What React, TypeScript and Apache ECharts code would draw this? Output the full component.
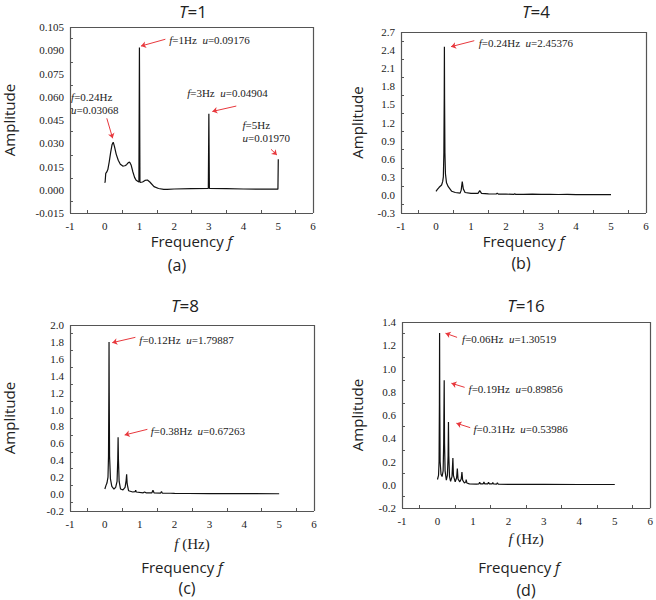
import React, { useEffect, useRef } from "react";
import * as echarts from "echarts";

// ---- data: [frequency (Hz), amplitude] ----
const spectrumT1: [number, number][] = [
  [0.0, 0.0045], [0.012, 0.0052], [0.03, 0.0106], [0.06, 0.0115], [0.09, 0.013], [0.13, 0.018],
  [0.17, 0.024], [0.21, 0.029], [0.245, 0.0307], [0.28, 0.028], [0.33, 0.023], [0.39, 0.019],
  [0.45, 0.0165], [0.52, 0.0153], [0.58, 0.0155], [0.63, 0.0162], [0.68, 0.0175], [0.72, 0.0178],
  [0.76, 0.016], [0.81, 0.0116], [0.86, 0.008], [0.9, 0.0063], [0.95, 0.0055], [0.985, 0.005],
  [1.0, 0.0918], [1.015, 0.0048], [1.09, 0.005], [1.16, 0.006], [1.23, 0.0063], [1.3, 0.005],
  [1.42, 0.002], [1.55, 0.0008], [1.7, 0.0003], [1.8, 0.0002], [2.0, 0.0005], [2.5, 0.0007],
  [2.985, 0.0009], [3.0, 0.049], [3.015, 0.0008], [3.5, 0.0007], [4.0, 0.0005], [4.5, 0.0004],
  [4.99, 0.0004], [5.0, 0.0197],
];
const spectrumT4: [number, number][] = [
  [0.0, 0.06], [0.04, 0.09], [0.09, 0.126], [0.16, 0.164], [0.19, 0.22], [0.21, 0.3], [0.225, 0.7],
  [0.235, 1.6], [0.24, 2.454], [0.245, 1.6], [0.255, 0.7], [0.27, 0.35], [0.3, 0.2], [0.35, 0.136],
  [0.45, 0.06], [0.55, 0.04], [0.69, 0.03], [0.72, 0.08], [0.75, 0.22], [0.78, 0.1], [0.83, 0.04],
  [1.0, 0.025], [1.2, 0.025], [1.25, 0.07], [1.3, 0.025], [1.5, 0.018], [1.72, 0.015], [1.75, 0.03],
  [1.78, 0.012], [2.0, 0.012], [2.23, 0.01], [2.25, 0.018], [2.27, 0.01], [2.5, 0.009], [2.75, 0.012],
  [3.0, 0.008], [3.25, 0.009], [3.5, 0.007], [3.75, 0.008], [4.0, 0.006], [4.5, 0.005], [5.0, 0.004],
];
const spectrumT8: [number, number][] = [
  [0.0, 0.06], [0.03, 0.1], [0.06, 0.13], [0.09, 0.2], [0.105, 0.45], [0.115, 1.2], [0.12, 1.799],
  [0.125, 1.2], [0.135, 0.45], [0.16, 0.18], [0.2, 0.09], [0.26, 0.06], [0.31, 0.08], [0.35, 0.15],
  [0.37, 0.4], [0.38, 0.673], [0.39, 0.4], [0.41, 0.15], [0.45, 0.06], [0.52, 0.05], [0.58, 0.08],
  [0.61, 0.16], [0.625, 0.235], [0.64, 0.12], [0.68, 0.04], [0.8, 0.025], [0.87, 0.03], [0.885, 0.045],
  [0.9, 0.025], [1.1, 0.015], [1.14, 0.025], [1.18, 0.015], [1.35, 0.015], [1.38, 0.045], [1.41, 0.015],
  [1.6, 0.012], [1.625, 0.03], [1.65, 0.01], [1.88, 0.01], [2.0, 0.008], [2.4, 0.007], [3.0, 0.006],
  [4.0, 0.005], [5.0, 0.004],
];
const spectrumT16: [number, number][] = [
  [0.0, 0.045], [0.03, 0.08], [0.045, 0.2], [0.055, 0.7], [0.06, 1.305], [0.065, 0.7], [0.075, 0.2],
  [0.1, 0.09], [0.13, 0.07], [0.16, 0.12], [0.175, 0.35], [0.19, 0.899], [0.2, 0.35], [0.215, 0.12],
  [0.25, 0.04], [0.28, 0.08], [0.3, 0.25], [0.31, 0.54], [0.32, 0.25], [0.34, 0.07], [0.37, 0.03],
  [0.41, 0.07], [0.435, 0.23], [0.45, 0.08], [0.5, 0.025], [0.54, 0.06], [0.56, 0.14], [0.58, 0.05],
  [0.63, 0.025], [0.67, 0.05], [0.69, 0.11], [0.71, 0.04], [0.76, 0.015], [0.8, 0.025], [0.81, 0.045],
  [0.83, 0.015], [0.9, 0.008], [1.1, 0.006], [1.17, 0.008], [1.19, 0.022], [1.21, 0.008], [1.29, 0.008],
  [1.31, 0.025], [1.33, 0.008], [1.42, 0.008], [1.44, 0.022], [1.46, 0.008], [1.54, 0.007], [1.56, 0.02],
  [1.58, 0.007], [1.67, 0.006], [1.69, 0.018], [1.71, 0.006], [2.0, 0.004], [3.0, 0.003], [4.0, 0.002],
  [5.0, 0.002],
];

// panel titles, sub-labels
const panelTitles = ["1", "4", "8", "16"];
const panelLetters = ["(a)", "(b)", "(c)", "(d)"];

// axis ranges
const xRange = { min: -1, max: 6, interval: 1 };
const yRanges = [
  { min: -0.015, max: 0.105, interval: 0.015, digits: 3 },
  { min: -0.3, max: 2.7, interval: 0.3, digits: 1 },
  { min: -0.2, max: 2.0, interval: 0.2, digits: 1 },
  { min: -0.2, max: 1.4, interval: 0.2, digits: 1 },
];

// annotations: label text, label anchor (data), arrow from/to (data)
type Note = { text: string; at: [number, number]; from: [number, number]; to: [number, number] };
const notesT1: Note[] = [
  { text: "{i|f}=0.24Hz\n{i|u}=0.03068", at: [-0.97, 0.0556], from: [0.06, 0.0461], to: [0.229, 0.0332] },
  { text: "{i|f}=1Hz  {i|u}=0.09176", at: [1.859, 0.0966], from: [1.747, 0.0971], to: [1.044, 0.0927] },
  { text: "{i|f}=3Hz  {i|u}=0.04904", at: [2.374, 0.0624], from: [3.79, 0.054], to: [3.1, 0.0505] },
  { text: "{i|f}=5Hz\n{i|u}=0.01970", at: [3.968, 0.0379], from: [4.79, 0.0261], to: [4.96, 0.0224] },
];
const notesT4: Note[] = [
  { text: "{i|f}=0.24Hz  {i|u}=2.45376", at: [1.22, 2.523], from: [1.094, 2.556], to: [0.429, 2.457] },
];
const notesT8: Note[] = [
  { text: "{i|f}=0.12Hz  {i|u}=1.79887", at: [0.988, 1.823], from: [0.876, 1.854], to: [0.212, 1.791] },
  { text: "{i|f}=0.38Hz  {i|u}=0.67263", at: [1.316, 0.75], from: [1.22, 0.766], to: [0.568, 0.699] },
];
const notesT16: Note[] = [
  { text: "{i|f}=0.06Hz  {i|u}=1.30519", at: [0.693, 1.251], from: [0.553, 1.268], to: [0.227, 1.303] },
  { text: "{i|f}=0.19Hz  {i|u}=0.89856", at: [0.876, 0.821], from: [0.766, 0.838], to: [0.394, 0.873] },
  { text: "{i|f}=0.31Hz  {i|u}=0.53986", at: [1.015, 0.477], from: [0.924, 0.491], to: [0.534, 0.529] },
];

const spectra = [spectrumT1, spectrumT4, spectrumT8, spectrumT16];
const notes = [notesT1, notesT4, notesT8, notesT16];

// ---- layout (pixels) ----
const grids = [
  { left: 64, top: 27, width: 249, height: 186 },
  { left: 401, top: 32, width: 245, height: 181 },
  { left: 64, top: 325, width: 250, height: 186 },
  { left: 402, top: 322, width: 251, height: 186 },
];
const yNameGap = [54, 37, 54, 38];
const xNameGap = [20, 20, 25, 23];
const titlePos = [[193, 11], [536, 11], [185, 305], [526, 305]];
const letterPos = [[177, 265], [521, 263], [187, 588], [526, 590]];
const freqPos = [[182, 567], [519, 567]];

const SERIF = "'Liberation Serif', 'Times New Roman', serif";
const SANS = "'Open Sans', 'Noto Sans', sans-serif";
const TEXT = "#222";
const AXIS = "#555";
const RED = "#e8383d";

// frame + tick segments for one panel, in data coordinates of that panel
function frameSegments(i: number) {
  const g = grids[i];
  const yr = yRanges[i];
  const x0 = xRange.min, x1 = xRange.max;
  const y0 = yr.min, y1 = yr.max;
  const perPxX = (x1 - x0) / g.width;
  const perPxY = (y1 - y0) / g.height;
  const style = { color: AXIS, width: 1.2, type: "solid" };
  const thin = { color: AXIS, width: 1, type: "solid" };
  const seg = (a: [number, number], b: [number, number], ls: any) => [
    { coord: a, symbol: "none", lineStyle: ls },
    { coord: b, symbol: "none" },
  ];
  const out: any[] = [
    seg([x0, y0], [x1, y0], style),
    seg([x0, y1], [x1, y1], style),
    seg([x0, y0], [x0, y1], style),
    seg([x1, y0], [x1, y1], style),
  ];
  const nx = Math.round((x1 - x0) / xRange.interval);
  for (let k = 0; k <= nx; k++) {
    const v = x0 + k * xRange.interval;
    out.push(seg([v, y0], [v, y0 - 4 * perPxY], thin));
    if (k < nx) {
      const m = v + xRange.interval / 2;
      out.push(seg([m, y0], [m, y0 + 3 * perPxY], thin));
    }
  }
  const ny = Math.round((y1 - y0) / yr.interval);
  for (let k = 0; k <= ny; k++) {
    const v = y0 + k * yr.interval;
    out.push(seg([x0, v], [x0 - 4 * perPxX, v], thin));
    if (k < ny) {
      const m = v + yr.interval / 2;
      out.push(seg([x0, m], [x0 + 3 * perPxX, m], thin));
    }
  }
  return out;
}

export default function App() {
  const ref = useRef<HTMLDivElement>(null);
  useEffect(() => {
    if (!ref.current) return;
    const chart = echarts.init(ref.current, undefined, { renderer: "svg" });
    const freqName = "Frequency {i|f}";
    const sansRich = { i: { fontStyle: "italic", fontFamily: SANS, fontSize: 15, color: TEXT } };
    const hzRich = { i: { fontStyle: "italic", fontFamily: SERIF, fontSize: 15, color: TEXT } };

    const mainX = grids.map((_, i) => ({
      type: "value",
      gridIndex: i,
      min: xRange.min,
      max: xRange.max,
      interval: xRange.interval,
      name: i < 2 ? freqName : "{i|f} (Hz)",
      nameLocation: "middle",
      nameGap: xNameGap[i],
      nameTextStyle: i < 2
        ? { fontFamily: SANS, fontSize: 15, color: TEXT, rich: sansRich }
        : { fontFamily: SERIF, fontSize: 15, color: TEXT, rich: hzRich },
      axisLine: { show: false, onZero: false },
      axisTick: { show: false },
      minorTick: { show: false },
      splitLine: { show: false },
      axisLabel: { fontFamily: SERIF, fontSize: 11, color: TEXT, margin: 7, formatter: (v: number) => String(Math.round(v)) },
    }));
    const mainY = grids.map((_, i) => ({
      type: "value",
      gridIndex: i,
      min: yRanges[i].min,
      max: yRanges[i].max,
      interval: yRanges[i].interval,
      name: "Amplitude",
      nameLocation: "middle",
      nameRotate: 90,
      nameGap: yNameGap[i],
      nameTextStyle: { fontFamily: SANS, fontSize: 15, color: TEXT },
      axisLine: { show: false, onZero: false },
      axisTick: { show: false },
      minorTick: { show: false },
      splitLine: { show: false },
      axisLabel: {
        fontFamily: SERIF, fontSize: 11, color: TEXT, margin: 6,
        formatter: (v: number) => v.toFixed(yRanges[i].digits),
      },
    }));

    const option: any = {
      animation: false,
      backgroundColor: "#fff",
      grid: grids.map((g) => ({ ...g })),
      xAxis: mainX,
      yAxis: mainY,
      series: spectra.map((data, i) => ({
        type: "line",
        xAxisIndex: i,
        yAxisIndex: i,
        data,
        clip: false,
        showSymbol: false,
        symbol: "none",
        lineStyle: { color: "#111", width: 1.2 },
        silent: true,
        markLine: {
          silent: true,
          symbol: ["none", "none"],
          symbolSize: 5,
          label: { show: false },
          lineStyle: { color: AXIS, width: 1, type: "solid" },
          emphasis: { disabled: true },
          data: [
            ...frameSegments(i),
            ...notes[i].map((n) => [
              { coord: n.from, symbol: "none", lineStyle: { color: RED, width: 1, type: "solid" } },
              { coord: n.to, symbol: "arrow", symbolSize: 5 },
            ]),
          ],
        },
        markPoint: {
          silent: true,
          symbol: "rect",
          symbolSize: 0.1,
          itemStyle: { color: "transparent" },
          label: {
            show: true,
            position: "right",
            distance: 0,
            fontFamily: SERIF,
            fontSize: 11,
            lineHeight: 13,
            color: TEXT,
            rich: { i: { fontStyle: "italic", fontFamily: SERIF, fontSize: 11, lineHeight: 13, color: TEXT } },
          },
          data: notes[i].map((n) => ({ coord: n.at, label: { formatter: n.text } })),
        },
      })),
      graphic: [
        ...panelTitles.map((t, i) => ({
          type: "text",
          x: titlePos[i][0],
          y: titlePos[i][1],
          style: {
            text: "{i|T}=" + t,
            fontFamily: SANS,
            fontSize: 17,
            fill: TEXT,
            align: "center",
            verticalAlign: "middle",
            rich: { i: { fontStyle: "italic", fontFamily: SANS, fontSize: 17, fill: TEXT } },
          },
        })),
        ...panelLetters.map((t, i) => ({
          type: "text",
          x: letterPos[i][0],
          y: letterPos[i][1],
          style: { text: t, fontFamily: SANS, fontSize: 16, fill: TEXT, align: "center", verticalAlign: "middle" },
        })),
        ...freqPos.map((p) => ({
          type: "text",
          x: p[0],
          y: p[1],
          style: {
            text: "Frequency {i|f}",
            fontFamily: SANS,
            fontSize: 15,
            fill: TEXT,
            align: "center",
            verticalAlign: "middle",
            rich: { i: { fontStyle: "italic", fontFamily: SANS, fontSize: 15, fill: TEXT } },
          },
        })),
      ],
    };
    chart.setOption(option);
    return () => chart.dispose();
  }, []);
  return (
    <div
      ref={ref}
      style={{ position: "fixed", left: 0, top: 0, width: 656, height: 600, background: "#fff" }}
    />
  );
}
